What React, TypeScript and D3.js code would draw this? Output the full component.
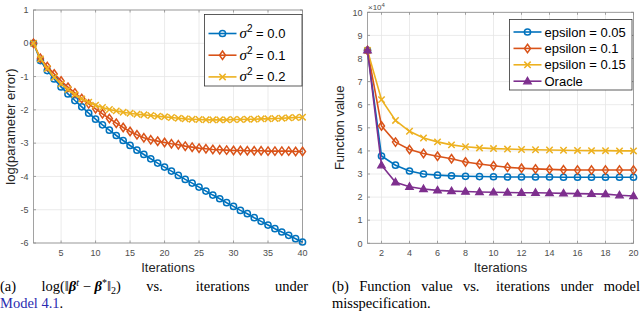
import React, { useEffect, useRef } from 'react';
import * as d3 from 'd3';

// ---- data: panel (a) ----
const iterA = d3.range(1, 41);
const sigma00 = [0, -0.52, -0.82, -1.07, -1.31, -1.52, -1.72, -1.91, -2.10, -2.28,
  -2.45, -2.61, -2.77, -2.92, -3.07, -3.21, -3.34, -3.47, -3.60, -3.72,
  -3.84, -3.97, -4.09, -4.20, -4.32, -4.44, -4.56, -4.67, -4.79, -4.90,
  -5.02, -5.12, -5.24, -5.35, -5.46, -5.57, -5.67, -5.77, -5.87, -5.97];
const sigma01 = [0, -0.45, -0.70, -0.92, -1.13, -1.32, -1.49, -1.66, -1.82, -1.97,
  -2.12, -2.26, -2.40, -2.53, -2.65, -2.75, -2.84, -2.90, -2.94, -2.98,
  -3.02, -3.05, -3.09, -3.12, -3.15, -3.17, -3.19, -3.20, -3.21, -3.22,
  -3.22, -3.23, -3.23, -3.23, -3.24, -3.24, -3.24, -3.24, -3.25, -3.25];
const sigma02 = [0, -0.47, -0.76, -1.02, -1.22, -1.39, -1.54, -1.67, -1.77, -1.86,
  -1.93, -1.99, -2.03, -2.07, -2.10, -2.13, -2.15, -2.17, -2.19, -2.21,
  -2.23, -2.25, -2.27, -2.28, -2.29, -2.30, -2.30, -2.30, -2.30, -2.29,
  -2.29, -2.28, -2.28, -2.27, -2.27, -2.26, -2.25, -2.24, -2.23, -2.22];
const xTicksA = [5, 10, 15, 20, 25, 30, 35, 40];
const yTicksA = [-6, -5, -4, -3, -2, -1, 0, 1];

// ---- data: panel (b), values in units of 1e4 ----
const iterB = d3.range(1, 21);
const eps005 = [8.35, 3.78, 3.38, 3.13, 3.00, 2.95, 2.92, 2.90, 2.89, 2.88,
  2.87, 2.87, 2.87, 2.87, 2.86, 2.86, 2.86, 2.86, 2.86, 2.86];
const eps01 = [8.35, 5.08, 4.38, 4.06, 3.89, 3.77, 3.66, 3.52, 3.43, 3.36,
  3.29, 3.25, 3.22, 3.20, 3.18, 3.17, 3.17, 3.17, 3.17, 3.17];
const eps015 = [8.35, 6.22, 5.32, 4.85, 4.56, 4.39, 4.26, 4.18, 4.13, 4.10,
  4.08, 4.06, 4.05, 4.04, 4.03, 4.02, 4.01, 4.01, 4.00, 4.00];
const oracle = [8.35, 3.38, 2.64, 2.45, 2.35, 2.29, 2.26, 2.24, 2.22, 2.21,
  2.20, 2.19, 2.19, 2.18, 2.16, 2.15, 2.14, 2.13, 2.08, 2.05];
const xTicksB = [2, 4, 6, 8, 10, 12, 14, 16, 18, 20];
const yTicksB = [0, 1, 2, 3, 4, 5, 6, 7, 8, 9, 10];

const BLUE = '#0072BD';
const ORANGE = '#D95319';
const YELLOW = '#EDB120';
const PURPLE = '#7E2F8E';
const SANS = 'Liberation Sans, Arial, sans-serif';
const SERIF = 'Liberation Serif, Times New Roman, serif';

function marker(g, kind, color, x, y, s = 1) {
  if (kind === 'o') {
    g.append('circle').attr('cx', x).attr('cy', y).attr('r', 3.1 * s)
      .attr('fill', 'none').attr('stroke', color).attr('stroke-width', 1.5);
  } else if (kind === 'd') {
    g.append('path')
      .attr('d', `M${x},${y - 4.2 * s}L${x + 3 * s},${y}L${x},${y + 4.2 * s}L${x - 3 * s},${y}Z`)
      .attr('fill', 'none').attr('stroke', color).attr('stroke-width', 1.5);
  } else if (kind === 'x') {
    const r = 3.2 * s;
    g.append('path')
      .attr('d', `M${x - r},${y - r}L${x + r},${y + r}M${x - r},${y + r}L${x + r},${y - r}`)
      .attr('stroke', color).attr('stroke-width', 1.5);
  } else if (kind === '^') {
    g.append('path')
      .attr('d', `M${x},${y - 4 * s}L${x + 3.8 * s},${y + 2.6 * s}L${x - 3.8 * s},${y + 2.6 * s}Z`)
      .attr('fill', color).attr('stroke', color).attr('stroke-width', 1.2);
  }
}

function drawPanel(svg, cfg) {
  const { x, y, xTicks, yTicks, series, xs } = cfg;
  const g = svg.append('g');
  const [x0, x1] = x.range();
  const [y0, y1] = y.range();

  // grid
  g.selectAll('.gx').data(xTicks).enter().append('line')
    .attr('x1', (d) => x(d)).attr('x2', (d) => x(d)).attr('y1', y0).attr('y2', y1)
    .attr('stroke', '#e6e6e6').attr('stroke-width', 0.8);
  g.selectAll('.gy').data(yTicks).enter().append('line')
    .attr('x1', x0).attr('x2', x1).attr('y1', (d) => y(d)).attr('y2', (d) => y(d))
    .attr('stroke', '#e6e6e6').attr('stroke-width', 0.8);

  // ticks (inside, both sides)
  const tk = 2.5;
  xTicks.forEach((t) => {
    g.append('line').attr('x1', x(t)).attr('x2', x(t)).attr('y1', y0).attr('y2', y0 - tk)
      .attr('stroke', '#8c8c8c').attr('stroke-width', 0.8);
    g.append('line').attr('x1', x(t)).attr('x2', x(t)).attr('y1', y1).attr('y2', y1 + tk)
      .attr('stroke', '#8c8c8c').attr('stroke-width', 0.8);
    g.append('text').attr('x', x(t)).attr('y', y0 + 13).attr('text-anchor', 'middle')
      .style('font', `9px ${SANS}`).style('fill', '#4d4d4d').text(t);
  });
  yTicks.forEach((t) => {
    g.append('line').attr('x1', x0).attr('x2', x0 + tk).attr('y1', y(t)).attr('y2', y(t))
      .attr('stroke', '#8c8c8c').attr('stroke-width', 0.8);
    g.append('line').attr('x1', x1).attr('x2', x1 - tk).attr('y1', y(t)).attr('y2', y(t))
      .attr('stroke', '#8c8c8c').attr('stroke-width', 0.8);
    g.append('text').attr('x', x0 - 5).attr('y', y(t) + 3.2).attr('text-anchor', 'end')
      .style('font', `9px ${SANS}`).style('fill', '#4d4d4d').text(t);
  });

  g.append('rect').attr('x', x0).attr('y', y1).attr('width', x1 - x0).attr('height', y0 - y1)
    .attr('fill', 'none').attr('stroke', '#8c8c8c').attr('stroke-width', 0.8);

  // series
  series.forEach((s) => {
    const line = d3.line().x((d, i) => x(xs[i])).y((d) => y(d));
    g.append('path').datum(s.values).attr('d', line)
      .attr('fill', 'none').attr('stroke', s.color).attr('stroke-width', 1.6);
    s.values.forEach((v, i) => marker(g, s.kind, s.color, x(xs[i]), y(v)));
  });

  // axis labels
  g.append('text').attr('x', (x0 + x1) / 2).attr('y', y0 + 29).attr('text-anchor', 'middle')
    .style('font', `13px ${SANS}`).style('fill', '#262626').text(cfg.xLabel);
  g.append('text')
    .attr('transform', `translate(${cfg.yLabelX},${(y0 + y1) / 2}) rotate(-90)`)
    .attr('text-anchor', 'middle')
    .style('font', `13px ${SANS}`).style('fill', '#262626').text(cfg.yLabel);

  // legend
  const L = cfg.legend;
  g.append('rect').attr('x', L.x).attr('y', L.y).attr('width', L.w).attr('height', L.h)
    .attr('fill', '#fff').attr('stroke', '#333').attr('stroke-width', 0.8);
  series.forEach((s, i) => {
    const ly = L.y + L.first + i * L.step;
    g.append('line').attr('x1', L.x + 4).attr('x2', L.x + 32).attr('y1', ly).attr('y2', ly)
      .attr('stroke', s.color).attr('stroke-width', 1.6);
    marker(g, s.kind, s.color, L.x + 18, ly);
    const t = g.append('text').attr('x', L.x + 35).attr('y', ly + 4.5)
      .style('font', `13px ${SANS}`).style('fill', '#000');
    s.label(t);
  });
  return g;
}

// place pieces of a caption line so they fill [xs, xe], like justified LaTeX text
function justify(nodes, xs, xe, weights) {
  const widths = nodes.map((n) => n.node().getComputedTextLength());
  const total = d3.sum(widths);
  const w = weights || d3.range(nodes.length - 1).map(() => 1);
  const unit = (xe - xs - total) / d3.sum(w);
  let cx = xs;
  nodes.forEach((n, i) => {
    n.attr('x', cx);
    cx += widths[i] + (i < w.length ? w[i] * unit : 0);
  });
}

const App = () => {
  const ref = useRef(null);

  useEffect(() => {
    const svg = d3.select(ref.current);
    svg.selectAll('*').remove();

    // panel (a)
    const xa = d3.scaleLinear().domain([1, 40]).range([33.5, 302.5]);
    const ya = d3.scaleLinear().domain([-6, 1]).range([243, 10]);
    const sigmaLabel = (val) => (t) => {
      t.append('tspan').style('font-style', 'italic').style('font-family', SERIF)
        .style('font-size', '15px').text('σ');
      t.append('tspan').attr('dy', -6).style('font-size', '10px').text('2');
      t.append('tspan').attr('dy', 6).text(` = ${val}`);
    };
    drawPanel(svg, {
      x: xa, y: ya, xs: iterA, xTicks: xTicksA, yTicks: yTicksA,
      xLabel: 'Iterations', yLabel: 'log(parameter error)', yLabelX: 15,
      series: [
        { values: sigma00, color: BLUE, kind: 'o', label: sigmaLabel('0.0') },
        { values: sigma01, color: ORANGE, kind: 'd', label: sigmaLabel('0.1') },
        { values: sigma02, color: YELLOW, kind: 'x', label: sigmaLabel('0.2') },
      ],
      legend: { x: 204.5, y: 14.5, w: 97.5, h: 71.5, first: 19, step: 21.7 },
    });

    // panel (b)
    const xb = d3.scaleLinear().domain([1, 20]).range([367.5, 633.5]);
    const yb = d3.scaleLinear().domain([0, 10]).range([243.3, 12.3]);
    const plain = (txt) => (t) => t.text(txt);
    drawPanel(svg, {
      x: xb, y: yb, xs: iterB, xTicks: xTicksB, yTicks: yTicksB,
      xLabel: 'Iterations', yLabel: 'Function value', yLabelX: 344,
      series: [
        { values: eps005, color: BLUE, kind: 'o', label: plain('epsilon = 0.05') },
        { values: eps01, color: ORANGE, kind: 'd', label: plain('epsilon = 0.1') },
        { values: eps015, color: YELLOW, kind: 'x', label: plain('epsilon = 0.15') },
        { values: oracle, color: PURPLE, kind: '^', label: plain('Oracle') },
      ],
      legend: { x: 509.5, y: 19.5, w: 122.5, h: 70.5, first: 12.5, step: 16.4 },
    });

    const exp = svg.append('text').attr('x', 368).attr('y', 10)
      .style('font', `8px ${SANS}`).style('fill', '#4d4d4d');
    exp.append('tspan').text('×10');
    exp.append('tspan').attr('dy', -3).style('font-size', '6px').text('4');

    // captions
    const cap = svg.append('g').style('font', `14.5px ${SERIF}`).style('fill', '#000');
    const word = (y, txt) => cap.append('text').attr('y', y).text(txt);

    const a0 = word(291, '(a)');
    const f = cap.append('text').attr('y', 291);
    f.append('tspan').text('log(‖');
    f.append('tspan').style('font-weight', 'bold').style('font-style', 'italic').text('β');
    f.append('tspan').attr('dy', -5).style('font-size', '10px').style('font-style', 'italic').text('t');
    f.append('tspan').attr('dy', 5).text(' − ');
    f.append('tspan').style('font-weight', 'bold').style('font-style', 'italic').text('β');
    f.append('tspan').attr('dy', -5).style('font-size', '10px').text('*');
    f.append('tspan').attr('dy', 5).text('‖');
    f.append('tspan').attr('dy', 3).style('font-size', '10px').text('2');
    f.append('tspan').attr('dy', -3).text(')');
    justify([a0, f, word(291, 'vs.'), word(291, 'iterations'), word(291, 'under')], 0, 308,
      [1, 1, 1.3, 1]);
    const m = cap.append('text').attr('x', 0).attr('y', 308);
    m.append('tspan').style('fill', '#2b2bb0').text('Model 4.1');
    m.append('tspan').text('.');

    const bWords = ['(b)', 'Function', 'value', 'vs.', 'iterations', 'under', 'model']
      .map((w) => word(291, w));
    justify(bWords, 332, 640, [1, 1, 1, 1.6, 1, 1]);
    word(308, 'misspecification.').attr('x', 332);
  }, []);

  return (
    <svg ref={ref} width={640} height={313}
      style={{ position: 'absolute', left: 0, top: 0, background: '#fff' }} />
  );
};

export default App;
